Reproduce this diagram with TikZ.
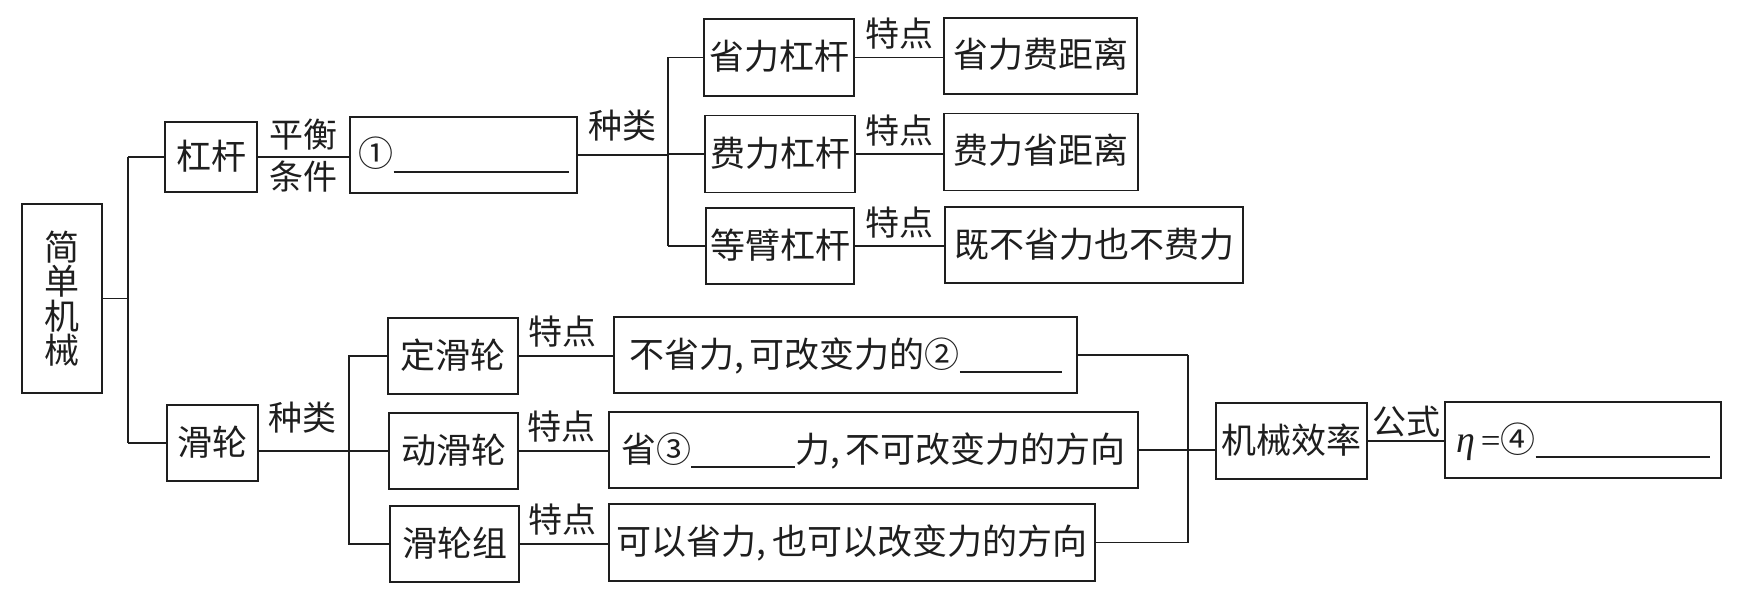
\documentclass[tikz,border=0pt]{standalone}
\usepackage{fontspec}
\usetikzlibrary{calc}
\newfontfamily\cjk{Noto Sans CJK SC}
\newfontfamily\serifgr{Liberation Serif}
\definecolor{ink}{RGB}{30,30,30}
\begin{document}
\begin{tikzpicture}[x=1pt,y=-1pt,
  bxb/.style={draw=ink, line width=1.8pt, inner sep=0pt, text=ink, font=\cjk\fontsize{35}{36}\selectfont},
  bx/.style={bxb, text height=30pt, text depth=6pt},
  lab/.style={inner sep=0pt, text=ink, text height=30pt, text depth=6pt, font=\cjk\fontsize{34}{36}\selectfont},
  ln/.style={draw=ink, line width=1.8pt}]
\useasboundingbox (0,0) rectangle (1737,599);
% nodes
\node[bxb, minimum width=80pt, minimum height=189pt, align=center, font=\cjk\fontsize{35}{34.5}\selectfont] (root) at (62,298.5) {简\\单\\机\\械};
\node[bx, minimum width=92pt, minimum height=70pt] (lever) at (211,157) {杠杆};
\node[bx, minimum width=227pt, minimum height=76pt] (cond) at (463.5,155) {①\rule[-5.5pt]{175pt}{1.2pt}};
\node[bx, minimum width=150pt, minimum height=77pt] (slk) at (779,57.5) {省力杠杆};
\node[bx, minimum width=150pt, minimum height=77pt] (flk) at (780,154) {费力杠杆};
\node[bx, minimum width=148pt, minimum height=76pt] (dbk) at (780,246) {等臂杠杆};
\node[bx, minimum width=193pt, minimum height=76pt] (r1) at (1040.5,56) {省力费距离};
\node[bx, minimum width=194pt, minimum height=77pt] (r2) at (1041,152) {费力省距离};
\node[bx, minimum width=298pt, minimum height=76pt] (r3) at (1094,245) {既不省力也不费力};
\node[bx, minimum width=91pt, minimum height=76pt] (pulley) at (212.5,443) {滑轮};
\node[bx, minimum width=130pt, minimum height=76pt] (dhl) at (453,356) {定滑轮};
\node[bx, minimum width=129pt, minimum height=76pt] (dong) at (453.5,451) {动滑轮};
\node[bx, minimum width=129pt, minimum height=76pt] (hlz) at (454.5,544) {滑轮组};
\node[bx, minimum width=463pt, minimum height=76pt] (p1) at (845.5,355) {不省力,\,可改变力的②\rule[-5.5pt]{102pt}{1.2pt}};
\node[bx, minimum width=529pt, minimum height=76pt] (p2) at (873.5,450) {省③\rule[-5.5pt]{104pt}{1.2pt}力,\,不可改变力的方向};
\node[bx, minimum width=486pt, minimum height=77pt] (p3) at (852,542.5) {可以省力,\,也可以改变力的方向};
\node[bx, minimum width=151pt, minimum height=76pt] (eff) at (1291.5,441) {机械效率};
\node[bx, minimum width=276pt, minimum height=76pt] (form) at (1583,440) {{\serifgr\itshape\fontsize{38}{38}\selectfont η}\,{\serifgr =}④\rule[-5.5pt]{174pt}{1.2pt}};
% left tree
\draw[ln] (root.east) -- ++(25,0) coordinate (j1);
\draw[ln] (j1 |- lever.west) -- (j1 |- pulley.west);
\draw[ln] (j1 |- lever.west) -- (lever.west);
\draw[ln] (j1 |- pulley.west) -- (pulley.west);
% lever branch
\draw[ln] (lever.east) -- (lever.east -| cond.west)
  node[lab, midway, above=3pt] (l1) {平衡}
  node[lab, midway, below=2pt] (l2) {条件};
\draw[ln] (cond.east) -- ++(90,0) coordinate (j2)
  node[lab, midway, above=10pt] (l3) {种类};
\draw[ln] (j2 |- slk.west) -- (j2 |- dbk.west);
\draw[ln] (j2 |- slk.west) -- (slk.west);
\draw[ln] (j2 |- flk.west) -- (flk.west);
\draw[ln] (j2 |- dbk.west) -- (dbk.west);
\draw[ln] (slk.east) -- (slk.east -| r1.west) node[lab, midway, above=4pt] (t1) {特点};
\draw[ln] (flk.east) -- (flk.east -| r2.west) node[lab, midway, above=4pt] (t2) {特点};
\draw[ln] (dbk.east) -- (dbk.east -| r3.west) node[lab, midway, above=4pt] (t3) {特点};
% pulley branch
\coordinate (j3) at ($(dhl.west)+(-38,0)$);
\draw[ln] (pulley.east |- dong.west) -- (j3 |- dong.west)
  node[lab, midway, above=14pt, xshift=-2pt] (l4) {种类};
\draw[ln] (j3 |- dong.west) -- (dong.west);
\draw[ln] (dhl.west) -- (j3) -- (j3 |- hlz.west) -- (hlz.west);
\draw[ln] (dhl.east) -- (dhl.east -| p1.west) node[lab, midway, above=5pt, xshift=-4pt] (t4) {特点};
\draw[ln] (dong.east) -- (dong.east -| p2.west) node[lab, midway, above=5pt, xshift=-2pt] (t5) {特点};
\draw[ln] (hlz.east) -- (hlz.east -| p3.west) node[lab, midway, above=5pt, xshift=-2pt] (t6) {特点};
% right part
\draw[ln] (p1.east) -- ++(110,0) coordinate (j4);
\draw[ln] (j4) -- (j4 |- p3.east) -- (p3.east);
\draw[ln] (p2.east) -- (p2.east -| eff.west);
\draw[ln] (eff.east) -- (eff.east -| form.west) node[lab, midway, above=0pt] (l5) {公式};
\end{tikzpicture}
\end{document}
